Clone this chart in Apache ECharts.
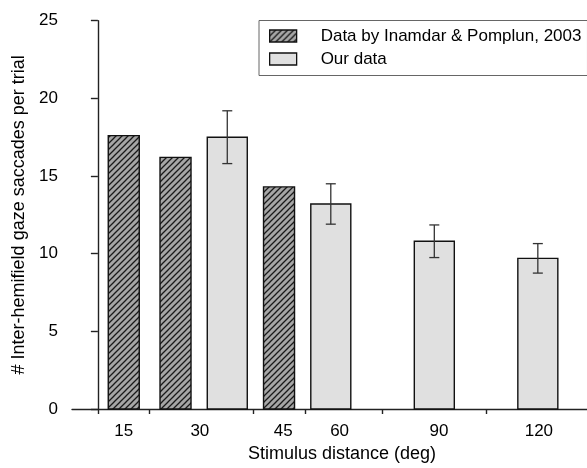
<!DOCTYPE html>
<html>
<head>
<meta charset="utf-8">
<script src="https://cdn.jsdelivr.net/npm/echarts@6/dist/echarts.min.js"></script>
<style>
  html, body { margin: 0; padding: 0; background: #fff; }
  #chart { width: 587px; height: 468px; }
</style>
</head>
<body>
<div id="chart"></div>
<script>
// Stimulus distances (deg)
const distances = ['15', '30', '45', '60', '90', '120'];
// Inamdar & Pomplun (2003): mean inter-hemifield saccades per trial
const publishedValues = [17.6, 16.2, 14.3, null, null, null];
// Present study: mean and error per distance
const ourValues = [null, 17.5, null, 13.2, 10.8, 9.7];
const ourErrors = [null, 1.7, null, 1.3, 1.05, 0.95];
// Y axis ticks
const yTicks = [0, 5, 10, 15, 20, 25];

const seriesNames = ['Data by Inamdar & Pomplun, 2003', 'Our data'];

// ---- layout: x axis is measured in bar slots ----
const publishedSlots = [0.5, 1.5, 3.5, null, null, null];
const ourSlots = [null, 2.5, null, 4.5, 6.5, 8.5];
const groupSeparators = [0, 1, 3, 4, 5.5, 7.5];
const labelSlots = [0.5, 1.97, 3.58, 4.67, 6.59, 8.52];
const FONT = '"Liberation Sans", Arial, Helvetica, sans-serif';

// Diagonal hatching for the published data
function makeHatch() {
  const s = 6;
  const c = document.createElement('canvas');
  c.width = s; c.height = s;
  const g = c.getContext('2d');
  g.fillStyle = '#a6a6a6';
  g.fillRect(0, 0, s, s);
  g.strokeStyle = '#1a1a1a';
  g.lineWidth = 1.3;
  g.beginPath();
  g.moveTo(-1, s + 1); g.lineTo(s + 1, -1);
  g.moveTo(-1, 1); g.lineTo(1, -1);
  g.moveTo(s - 1, s + 1); g.lineTo(s + 1, s - 1);
  g.stroke();
  return { image: c, repeat: 'repeat' };
}
const hatch = makeHatch();
const lightFill = '#e0e0e0';

function pairs(slots, values, extra) {
  const out = [];
  values.forEach((v, i) => {
    if (v == null) return;
    const row = [slots[i], v];
    if (extra) row.push(extra[i]);
    out.push(row);
  });
  return out;
}

function barRenderer(width, fill) {
  return function (params, api) {
    const x = api.value(0);
    const top = api.coord([x, api.value(1)]);
    const base = api.coord([x, 0]);
    return {
      type: 'rect',
      shape: { x: top[0] - width / 2, y: top[1], width: width, height: base[1] - top[1] },
      style: { fill: fill, stroke: '#111', lineWidth: 1.4 }
    };
  };
}

function errorRenderer(params, api) {
  const x = api.value(0), m = api.value(1), e = api.value(2);
  const hi = api.coord([x, m + e]);
  const lo = api.coord([x, m - e]);
  const cap = 5;
  const st = { stroke: '#333', lineWidth: 1.3, fill: null };
  return {
    type: 'group',
    children: [
      { type: 'line', shape: { x1: hi[0], y1: hi[1], x2: lo[0], y2: lo[1] }, style: st },
      { type: 'line', shape: { x1: hi[0] - cap, y1: hi[1], x2: hi[0] + cap, y2: hi[1] }, style: st },
      { type: 'line', shape: { x1: lo[0] - cap, y1: lo[1], x2: lo[0] + cap, y2: lo[1] }, style: st }
    ]
  };
}

const chart = echarts.init(document.getElementById('chart'), null, { renderer: 'canvas' });
chart.setOption({
  animation: false,
  backgroundColor: '#fff',
  textStyle: { fontFamily: FONT },
  grid: { left: 72, right: 0, top: 20.7, bottom: 58.7 },
  legend: {
    show: true,
    selectedMode: false,
    orient: 'vertical',
    left: 259,
    top: 20.5,
    padding: [7, 6, 8, 10],
    itemGap: 6,
    itemWidth: 27,
    itemHeight: 12,
    borderColor: '#666',
    borderWidth: 1,
    textStyle: { fontFamily: FONT, fontSize: 17, color: '#000', padding: [0, 0, 0, 19] },
    data: [
      { name: seriesNames[0], icon: 'rect', itemStyle: { color: hatch, borderColor: '#111', borderWidth: 1.3 } },
      { name: seriesNames[1], icon: 'rect', itemStyle: { color: lightFill, borderColor: '#111', borderWidth: 1.3 } }
    ]
  },
  xAxis: {
    type: 'value',
    min: -0.5,
    max: 9.45,
    name: 'Stimulus distance (deg)',
    nameLocation: 'middle',
    nameGap: 36,
    nameTextStyle: { fontFamily: FONT, fontSize: 18, color: '#000', padding: [0, 0, 0, 25] },
    axisLine: { show: true, lineStyle: { color: '#222', width: 1.4 } },
    axisTick: { show: true, length: 5, customValues: groupSeparators, lineStyle: { color: '#222', width: 1.4 } },
    axisLabel: {
      show: true,
      margin: 14,
      fontSize: 17,
      color: '#000',
      fontFamily: FONT,
      customValues: labelSlots,
      formatter: function (v) {
        let best = 0;
        labelSlots.forEach((s, i) => { if (Math.abs(s - v) < Math.abs(labelSlots[best] - v)) best = i; });
        return distances[best];
      }
    },
    splitLine: { show: false }
  },
  yAxis: {
    type: 'value',
    min: yTicks[0],
    max: yTicks[yTicks.length - 1],
    interval: 5,
    name: '# Inter-hemifield gaze saccades per trial',
    nameLocation: 'middle',
    nameRotate: 90,
    nameGap: 38,
    nameTextStyle: { fontFamily: FONT, fontSize: 18, color: '#000' },
    axisLine: { show: true, lineStyle: { color: '#222', width: 1.4 } },
    axisTick: { show: true, length: 7, lineStyle: { color: '#222', width: 1.4 } },
    axisLabel: { show: true, margin: 14, fontSize: 17, color: '#000', fontFamily: FONT },
    splitLine: { show: false }
  },
  series: [
    {
      name: seriesNames[0],
      type: 'custom',
      renderItem: barRenderer(31, hatch),
      encode: { x: 0, y: 1 },
      itemStyle: { color: hatch },
      data: pairs(publishedSlots, publishedValues)
    },
    {
      name: seriesNames[1],
      type: 'custom',
      renderItem: barRenderer(40, lightFill),
      encode: { x: 0, y: 1 },
      itemStyle: { color: lightFill },
      data: pairs(ourSlots, ourValues)
    },
    {
      type: 'custom',
      renderItem: errorRenderer,
      encode: { x: 0, y: [1, 2] },
      z: 5,
      data: pairs(ourSlots, ourValues, ourErrors)
    }
  ]
});
</script>
</body>
</html>
